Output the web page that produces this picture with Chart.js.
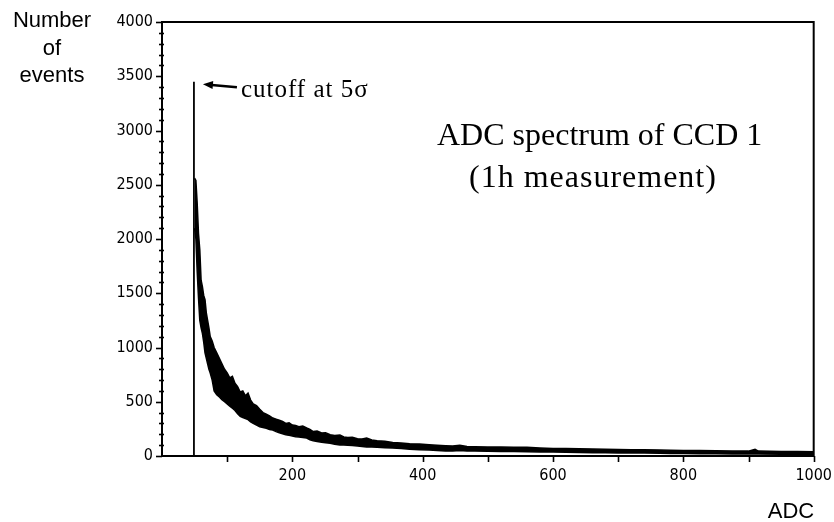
<!DOCTYPE html>
<html>
<head>
<meta charset="utf-8">
<script src="https://cdn.jsdelivr.net/npm/chart.js@4"></script>
<style>
  html, body { margin: 0; padding: 0; background: #fff; }
  #wrap { position: relative; width: 834px; height: 522px; }
</style>
</head>
<body>
<div id="wrap"><canvas id="c" width="834" height="522"></canvas></div>
<script>
// ---- data ----
const spikeAdc = 49;
const spikeCount = 3450;
const adcBins = [50, 52, 54, 56, 58, 60, 62, 64, 66, 68, 70, 72, 74, 77, 80, 84, 88, 92, 96, 100,
  104, 108, 112, 116, 120, 124, 128, 132, 136, 140, 145, 150, 155, 160, 165, 170, 175, 180, 185, 190,
  195, 200, 205, 210, 216, 222, 227, 232, 238, 245, 251, 258, 265, 273, 279, 285, 292, 300, 307, 314,
  322, 330, 342, 354, 367, 380, 395, 410, 422, 435, 446, 457, 468, 480, 500, 520, 540, 560, 580, 600,
  620, 640, 661, 680, 700, 720, 740, 764, 780, 800, 825, 850, 875, 900, 910, 915, 950, 975, 1000];
const upperCounts = [2560, 2540, 2330, 2050, 1900, 1620, 1560, 1480, 1440, 1320, 1250, 1180, 1100, 1060, 1000, 950, 900, 850, 800, 765,
  720, 735, 670, 640, 590, 600, 555, 580, 515, 480, 465, 430, 400, 385, 370, 350, 340, 330, 318, 300,
  306, 285, 282, 270, 276, 258, 246, 225, 230, 212, 215, 196, 190, 194, 176, 170, 172, 160, 156, 166,
  148, 140, 136, 124, 120, 112, 110, 104, 100, 95, 92, 100, 88, 86, 84, 82, 80, 80, 74, 70,
  68, 66, 64, 62, 60, 58, 57, 55, 53, 50, 50, 48, 46, 45, 62, 45, 42, 42, 40];
const lowerCounts = [2100, 2000, 1700, 1460, 1250, 1180, 1130, 1050, 950, 900, 850, 800, 765, 700, 600, 565, 545, 520, 500, 480,
  460, 440, 420, 390, 365, 355, 345, 335, 315, 300, 285, 270, 262, 255, 245, 240, 225, 215, 205, 195,
  190, 185, 178, 175, 170, 166, 150, 140, 134, 126, 122, 118, 108, 102, 101, 100, 96, 92, 88, 84,
  82, 80, 77, 74, 68, 62, 58, 55, 50, 46, 47, 50, 46, 45, 43, 42, 41, 40, 38, 36,
  34, 33, 30, 29, 28, 28, 27, 25, 24, 22, 21, 20, 19, 18, 18, 18, 17, 17, 16];
const yTickStep = 100, yLabelEvery = 500;
const xTickStep = 100, xLabelEvery = 200;
const titleLines = ['ADC spectrum of CCD 1', '(1h measurement)'];
const yTitleLines = ['Number', 'of', 'events'];
const xTitle = 'ADC';
const cutoffLabel = 'cutoff at 5\u03C3';

const upperPts = adcBins.map((x, i) => ({ x, y: upperCounts[i] }));
const lowerPts = adcBins.map((x, i) => ({ x, y: lowerCounts[i] }));
const spikePts = [{ x: spikeAdc, y: 0 }, { x: spikeAdc, y: spikeCount }];

const tickFont = "'DejaVu Sans Condensed', 'Liberation Sans Narrow', 'DejaVu Sans', sans-serif";

const decor = {
  id: 'decor',
  afterDraw(chart) {
    const ctx = chart.ctx;
    const a = chart.chartArea;
    const xs = chart.scales.x, ys = chart.scales.y;
    ctx.save();
    ctx.strokeStyle = '#000';
    ctx.fillStyle = '#000';
    // frame
    ctx.lineWidth = 2;
    ctx.strokeRect(a.left, a.top, a.right - a.left, a.bottom - a.top);
    // y ticks
    ctx.lineWidth = 1.6;
    for (let v = ys.min; v <= ys.max; v += yTickStep) {
      const y = Math.round(ys.getPixelForValue(v)) + 0.5;
      ctx.beginPath();
      if (v % yLabelEvery === 0) { ctx.moveTo(a.left - 6, y); ctx.lineTo(a.left, y); }
      else { ctx.moveTo(a.left - 3, y); ctx.lineTo(a.left + 2, y); }
      ctx.stroke();
    }
    // x ticks
    for (let v = xs.min + xTickStep; v <= xs.max; v += xTickStep) {
      const x = Math.round(xs.getPixelForValue(v)) + 0.5;
      ctx.beginPath();
      ctx.moveTo(x, a.bottom); ctx.lineTo(x, a.bottom + 6);
      ctx.stroke();
    }
    // arrow to the cutoff spike
    const sx = xs.getPixelForValue(spikeAdc), sy = ys.getPixelForValue(spikeCount);
    const tipX = sx + 9, tipY = sy + 2.5, tailX = sx + 43, tailY = sy + 5.5;
    ctx.lineWidth = 2.6;
    ctx.beginPath(); ctx.moveTo(tailX, tailY); ctx.lineTo(tipX + 6, tipY + 0.5); ctx.stroke();
    const ang = Math.atan2(tipY - tailY, tipX - tailX);
    ctx.beginPath();
    ctx.moveTo(tipX, tipY);
    ctx.lineTo(tipX - 10 * Math.cos(ang) + 4 * Math.sin(ang), tipY - 10 * Math.sin(ang) - 4 * Math.cos(ang));
    ctx.lineTo(tipX - 10 * Math.cos(ang) - 4 * Math.sin(ang), tipY - 10 * Math.sin(ang) + 4 * Math.cos(ang));
    ctx.closePath(); ctx.fill();
    // texts
    ctx.textBaseline = 'alphabetic';
    ctx.textAlign = 'left';
    ctx.font = "25px 'Liberation Serif', 'Times New Roman', serif";
    ctx.letterSpacing = '1px';
    ctx.fillText(cutoffLabel, sx + 47, sy + 15);
    ctx.letterSpacing = '0px';
    ctx.font = "32px 'Liberation Serif', 'Times New Roman', serif";
    ctx.fillText(titleLines[0], 437, 145);
    ctx.letterSpacing = '1px';
    ctx.fillText(titleLines[1], 469, 187);
    ctx.letterSpacing = '0px';
    ctx.textAlign = 'center';
    ctx.font = "22px 'Liberation Sans', Arial, sans-serif";
    ctx.fillText(yTitleLines[0], 52, 27);
    ctx.fillText(yTitleLines[1], 52, 54.5);
    ctx.fillText(yTitleLines[2], 52, 82);
    ctx.fillText(xTitle, 791, 518);
    ctx.restore();
  }
};

new Chart(document.getElementById('c'), {
  type: 'line',
  data: {
    datasets: [
      { label: 'upper', data: upperPts, fill: '+1', backgroundColor: '#000', borderColor: '#000', borderWidth: 1.5, pointRadius: 0, tension: 0 },
      { label: 'lower', data: lowerPts, fill: false, borderColor: '#000', borderWidth: 1.5, pointRadius: 0, tension: 0 },
      { label: 'cutoff', data: spikePts, fill: false, borderColor: '#000', borderWidth: 1.8, pointRadius: 0, tension: 0 }
    ]
  },
  options: {
    responsive: false,
    animation: false,
    devicePixelRatio: 1,
    layout: { padding: { left: 0, top: 22, right: 13, bottom: 0 } },
    plugins: { legend: { display: false }, tooltip: { enabled: false }, title: { display: false } },
    scales: {
      x: {
        type: 'linear', min: 0, max: 1000,
        grid: { display: false }, border: { display: false },
        ticks: {
          stepSize: xTickStep, autoSkip: false, maxRotation: 0, padding: 2,
          color: '#000', font: { family: tickFont, size: 16 },
          callback: v => (v > 0 && v % xLabelEvery === 0) ? String(v) : ''
        },
        afterFit: s => { s.height = 66; }
      },
      y: {
        type: 'linear', min: 0, max: 4000,
        grid: { display: false }, border: { display: false },
        ticks: {
          stepSize: yTickStep, autoSkip: false, padding: 1,
          color: '#000', font: { family: tickFont, size: 16 },
          callback: v => (v % yLabelEvery === 0) ? String(v) : ''
        },
        afterFit: s => { s.width = 162; }
      }
    }
  },
  plugins: [decor]
});
</script>
</body>
</html>
